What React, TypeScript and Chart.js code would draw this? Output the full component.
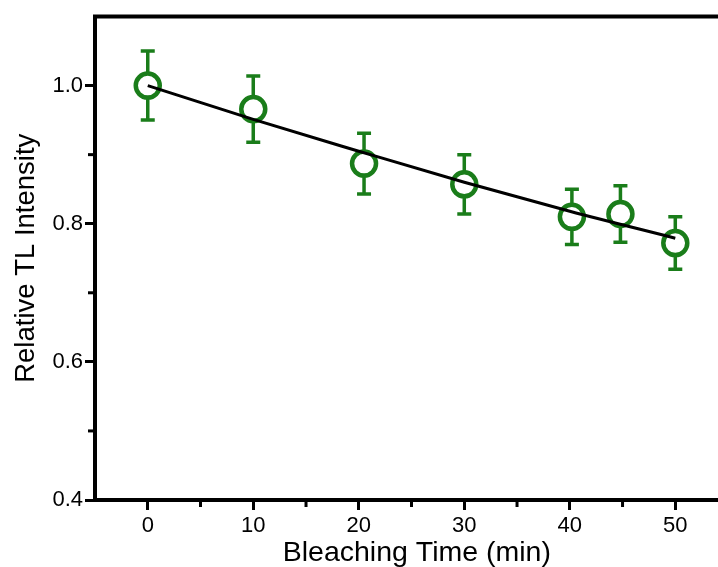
import React, { useEffect, useRef } from 'react';
import { Chart, registerables } from 'chart.js';

Chart.register(...registerables);

// Measured points (Bleaching time, relative TL intensity, error)
const timeMin = [0, 10, 20.5, 30, 40.2, 44.8, 50];
const relIntensity = [1.0, 0.966, 0.887, 0.857, 0.81, 0.814, 0.772];
const errors = [0.05, 0.048, 0.044, 0.043, 0.04, 0.041, 0.038];

// Fitted curve
const fitTime = [0, 10, 20, 30, 40, 50];
const fitIntensity = [1.0, 0.951, 0.905, 0.86, 0.818, 0.779];

// Axes
const xMajorTicks = [0, 10, 20, 30, 40, 50];
const xMinorTicks = [5, 15, 25, 35, 45];
const yMajorTicks = [0.4, 0.6, 0.8, 1.0];
const yMinorTicks = [0.5, 0.7, 0.9];

const GREEN = '#1a7d1a';
const FONT = "'Liberation Sans', Arial, sans-serif";

const decor = {
  id: 'decor',
  beforeDatasetsDraw(chart: any) {
    const ctx = chart.ctx;
    const xs = chart.scales.x;
    const ys = chart.scales.y;
    ctx.save();
    ctx.strokeStyle = GREEN;
    ctx.lineWidth = 3.5;
    ctx.lineCap = 'butt';
    timeMin.forEach((t, i) => {
      const px = xs.getPixelForValue(t);
      const top = ys.getPixelForValue(relIntensity[i] + errors[i]);
      const bot = ys.getPixelForValue(relIntensity[i] - errors[i]);
      ctx.beginPath();
      ctx.moveTo(px, top);
      ctx.lineTo(px, bot);
      ctx.moveTo(px - 7, top);
      ctx.lineTo(px + 7, top);
      ctx.moveTo(px - 7, bot);
      ctx.lineTo(px + 7, bot);
      ctx.stroke();
    });
    ctx.restore();
  },
  afterDraw(chart: any) {
    const ctx = chart.ctx;
    const { left, right, top, bottom } = chart.chartArea;
    const xs = chart.scales.x;
    const ys = chart.scales.y;
    ctx.save();
    ctx.strokeStyle = '#000';
    ctx.lineWidth = 3;
    xMinorTicks.forEach((v) => {
      const px = xs.getPixelForValue(v);
      ctx.beginPath();
      ctx.moveTo(px, bottom);
      ctx.lineTo(px, bottom + 7);
      ctx.stroke();
    });
    yMinorTicks.forEach((v) => {
      const py = ys.getPixelForValue(v);
      ctx.beginPath();
      ctx.moveTo(left, py);
      ctx.lineTo(left - 7, py);
      ctx.stroke();
    });
    ctx.lineWidth = 4;
    ctx.strokeRect(left, top, right - left, bottom - top);
    ctx.restore();
  },
};

export default function App() {
  const ref = useRef<HTMLCanvasElement | null>(null);

  useEffect(() => {
    if (!ref.current) return;
    const chart = new Chart(ref.current, {
      type: 'scatter',
      data: {
        datasets: [
          {
            type: 'line',
            label: 'Fit',
            data: fitTime.map((t, i) => ({ x: t, y: fitIntensity[i] })),
            borderColor: '#000',
            borderWidth: 3,
            pointRadius: 0,
            cubicInterpolationMode: 'monotone',
            fill: false,
            order: 0,
          },
          {
            type: 'scatter',
            label: 'Data',
            data: timeMin.map((t, i) => ({ x: t, y: relIntensity[i] })),
            pointRadius: 12,
            pointBorderWidth: 4.5,
            pointBorderColor: GREEN,
            pointBackgroundColor: '#fff',
            borderColor: GREEN,
            backgroundColor: '#fff',
            order: 1,
          },
        ],
      } as any,
      options: {
        responsive: false,
        animation: false,
        events: [],
        layout: { padding: { top: 12, right: 21.4, left: 0, bottom: 0 } },
        plugins: {
          legend: { display: false },
          tooltip: { enabled: false },
        },
        scales: {
          x: {
            type: 'linear',
            min: -5,
            max: 56,
            afterBuildTicks: (s: any) => {
              s.ticks = xMajorTicks.map((v) => ({ value: v }));
            },
            afterFit: (s: any) => {
              s.height = 67;
              s.paddingLeft = 0;
              s.paddingRight = 0;
            },
            border: { display: false },
            grid: {
              drawOnChartArea: false,
              drawTicks: true,
              tickLength: 10,
              tickWidth: 3,
              tickColor: '#000',
            },
            ticks: {
              color: '#000',
              padding: 3,
              maxRotation: 0,
              autoSkip: false,
              font: { family: FONT, size: 22 },
              callback: (v: any) => String(v),
            },
            title: {
              display: true,
              text: 'Bleaching Time (min)',
              color: '#000',
              font: { family: FONT, size: 28.5, lineHeight: 1.0 },
              padding: { top: 0, bottom: 0 },
            },
          },
          y: {
            type: 'linear',
            min: 0.4,
            max: 1.1,
            afterBuildTicks: (s: any) => {
              s.ticks = yMajorTicks.map((v) => ({ value: v }));
            },
            afterFit: (s: any) => {
              s.width = 95;
              s.paddingTop = 0;
              s.paddingBottom = 0;
            },
            border: { display: false },
            grid: {
              drawOnChartArea: false,
              drawTicks: true,
              tickLength: 10,
              tickWidth: 3,
              tickColor: '#000',
            },
            ticks: {
              color: '#000',
              padding: 2,
              autoSkip: false,
              font: { family: FONT, size: 22 },
              callback: (v: any) => Number(v).toFixed(1),
            },
            title: {
              display: true,
              text: 'Relative TL Intensity',
              color: '#000',
              font: { family: FONT, size: 27.5, lineHeight: 1.0 },
              padding: { top: 12.5, bottom: 0 },
            },
          },
        },
      } as any,
      plugins: [decor],
    });
    return () => chart.destroy();
  }, []);

  return (
    <div
      style={{
        position: 'fixed',
        left: 0,
        top: 0,
        width: 718,
        height: 567,
        overflow: 'hidden',
        background: '#fff',
      }}
    >
      <canvas ref={ref} width={760} height={567} style={{ display: 'block', width: 760, height: 567 }} />
    </div>
  );
}
